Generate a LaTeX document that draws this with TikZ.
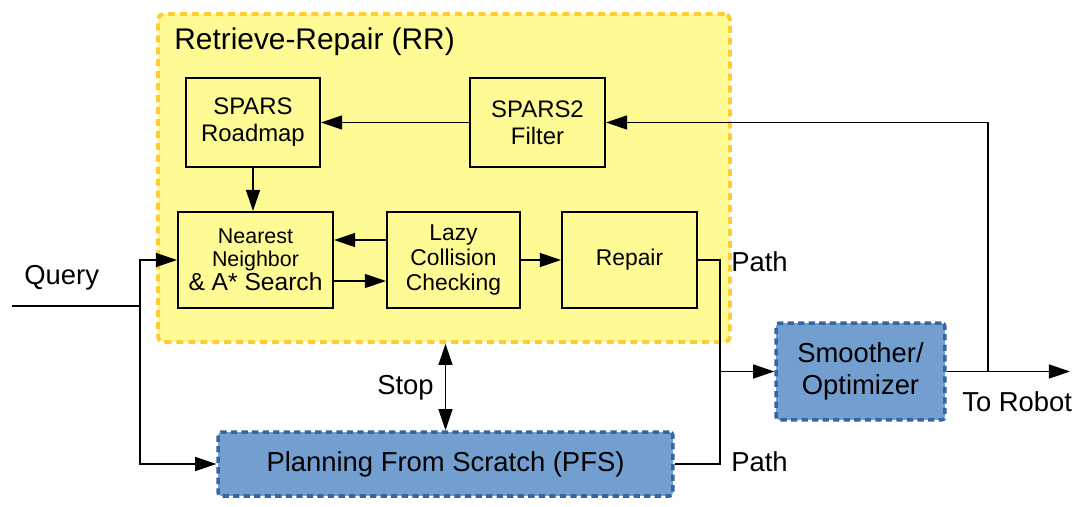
\documentclass[tikz,border=0pt]{standalone}
\usepackage{fontspec}
\setmainfont{Liberation Sans}
\usetikzlibrary{arrows.meta,positioning,calc}
\definecolor{rrfill}{HTML}{FFFB94}
\definecolor{rrline}{HTML}{FFCC33}
\definecolor{pfill}{HTML}{729FCF}
\definecolor{pline}{HTML}{3465A4}

\begin{document}
\begin{tikzpicture}[
		x=0.02cm, y=-0.02cm,
		box/.style={
			draw,
			line width=1.2pt,
			fill=rrfill,
			align=center,
			inner sep=0pt,
			font=\fontsize{13.6}{15.5}\selectfont
		},
		bluebox/.style={
			draw=pline,
			fill=pfill,
			line width=2pt,
			dash pattern=on 3.6pt off 2.4pt,
			rounded corners=2pt,
			align=center,
			inner sep=0pt,
			font=\fontsize{15.6}{18}\selectfont
		},
		lbl/.style={
			inner sep=0pt,
			font=\fontsize{15.6}{18}\selectfont
		},
		arr/.style={-{Triangle[length=12pt,width=8pt]}, line width=0.7pt},
		line/.style={line width=0.7pt}
		]
		\useasboundingbox (0,0) rectangle (1090,507);
		
		% Retrieve-Repair container
		\node[draw=rrline, fill=rrfill, line width=2.2pt, dash pattern=on 4pt off 2.8pt,
			rounded corners=3pt, minimum width=11.44cm, minimum height=6.56cm] (rr) at (444,178) {};
		\node[lbl, anchor=west, font=\fontsize{17}{20}\selectfont] (rrtitle) at (174,42) {Retrieve-Repair (RR)};
		
		\node[box, minimum width=2.68cm, minimum height=1.78cm] (spars) at (253,122.5) {SPARS\\Roadmap};
		\node[box, minimum width=2.70cm, minimum height=1.78cm] (filter) at (537.5,122.5) {SPARS2\\Filter};
		\node[box, minimum width=3.10cm, minimum height=1.92cm, font=\fontsize{12.2}{13}\selectfont] (nn) at (255.5,260)
			{Nearest\\Neighbor\\[1pt]\fontsize{14}{14}\selectfont\& A* Search};
		\node[box, minimum width=2.66cm, minimum height=1.92cm, font=\fontsize{13}{14.2}\selectfont] (lazy) at (453.5,260)
			{Lazy\\Collision\\Checking};
		\node[box, minimum width=2.70cm, minimum height=1.92cm, font=\fontsize{13}{15}\selectfont] (repair) at (629.5,260) {Repair};
		
		\node[bluebox, minimum width=3.38cm, minimum height=1.94cm] (smoother) at (860.5,371.5) {Smoother/\\Optimizer};
		\node[bluebox, minimum width=9.10cm, minimum height=1.28cm] (pfs) at (445.5,464) {Planning From Scratch (PFS)};
		
		\coordinate (qin) at (12,306);
		\coordinate (qsplit) at (140,306);
		\coordinate (merge) at (720,371.5);
		\coordinate (fb) at (988,371.5);
		\coordinate (robot) at (1070,371.5);
		
		\node[lbl, anchor=west] (query) at (24,278) {Query};
		\node[lbl, anchor=west] (path1) at (731,262) {Path};
		\node[lbl, anchor=west] (path2) at (731,462) {Path};
		\node[lbl, anchor=west] (torobot) at (962,402) {To Robot};
		\node[lbl, anchor=east] (stop) at (434,388) {Stop};
		
		% query input
		\draw[line] (qin)--(qsplit);
		\draw[arr] (qsplit) |- (nn.west);
		\draw[arr] (qsplit) |- (pfs.west);
		
		% inside RR
		\draw[arr] (filter.west)--(spars.east);
		\draw[arr] (spars.south)--(spars.south |- nn.north);
		\draw[arr] ([yshift=0.4cm]lazy.west)--([yshift=0.4cm]nn.east);
		\draw[arr] ([yshift=-0.42cm]nn.east)--([yshift=-0.42cm]lazy.west);
		\draw[arr] (lazy.east)--(repair.west);
		
		% paths to smoother
		\draw[line] (repair.east) -| (merge);
		\draw[line] (pfs.east) -| (merge);
		\draw[arr] (merge)--(smoother.west);
		\draw[arr] (smoother.east)--(robot);
		\draw[arr] (fb) |- (filter.east);
		
		% stop signal
		\draw[{Triangle[length=12pt,width=8pt]}-{Triangle[length=12pt,width=8pt]}, line width=0.7pt]
			(pfs.north |- rr.south)--(pfs.north);
		
	\end{tikzpicture}
\end{document}
